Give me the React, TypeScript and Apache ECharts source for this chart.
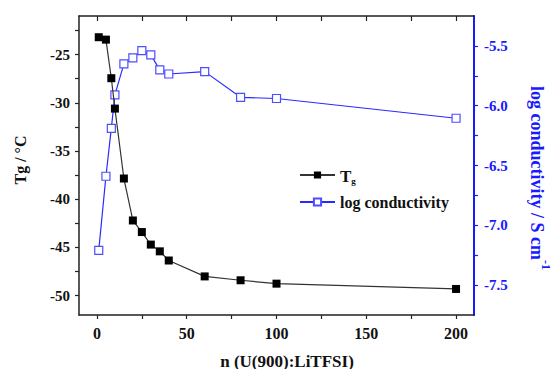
import React, { useEffect, useRef } from "react";
import * as echarts from "echarts";

const nValues = [1, 5, 8, 10, 15, 20, 25, 30, 35, 40, 60, 80, 100, 200];
const tgValues = [-23.2, -23.45, -27.45, -30.6, -37.85, -42.2, -43.4, -44.7, -45.4, -46.35, -48.0, -48.4, -48.75, -49.3];
const logCondValues = [-7.21, -6.59, -6.19, -5.91, -5.65, -5.6, -5.54, -5.575, -5.7, -5.735, -5.715, -5.93, -5.94, -6.105];

const xMajor = [0, 50, 100, 150, 200];
const xTicks = [0, 25, 50, 75, 100, 125, 150, 175, 200];
const leftMajor = [-50, -45, -40, -35, -30, -25];
const leftTicks = [-50, -47.5, -45, -42.5, -40, -37.5, -35, -32.5, -30, -27.5, -25, -22.5];
const rightMajor = [-7.5, -7.0, -6.5, -6.0, -5.5];
const rightTicks = [-7.5, -7.25, -7.0, -6.75, -6.5, -6.25, -6.0, -5.75, -5.5];

const FONT = "Liberation Serif";
const BLUE = "#1a1aff";

export default function App() {
  const ref = useRef<HTMLDivElement>(null);
  useEffect(() => {
    if (!ref.current) return;
    const chart = echarts.init(ref.current, null, { renderer: "svg" });
    const labelStyle = { fontFamily: FONT, fontWeight: "bold", fontSize: 15, color: "#111" };
    chart.setOption({
      animation: false,
      backgroundColor: "#fff",
      grid: { left: 79, right: 79, top: 16, bottom: 54 },
      legend: {
        left: 294,
        top: 160,
        orient: "vertical",
        itemWidth: 35,
        itemHeight: 9,
        itemGap: 9,
        textStyle: {
          fontFamily: FONT,
          fontWeight: "bold",
          fontSize: 16,
          color: "#111",
          rich: {
            t: { fontFamily: FONT, fontWeight: "bold", fontSize: 17, color: "#111", lineHeight: 20, verticalAlign: "bottom" },
            g: { fontFamily: FONT, fontWeight: "bold", fontSize: 9, color: "#111", lineHeight: 12, padding: [11, 0, 0, 0] },
          },
        },
        formatter: (name: string) => (name === "Tg" ? "{t|T}{g|g}" : name),
        data: ["Tg", "log conductivity"],
      },
      graphic: [
        {
          type: "text",
          x: 20,
          y: 160,
          rotation: Math.PI / 2,
          style: {
            text: "Tg / °C",
            fontFamily: FONT,
            fontWeight: "bold",
            fontSize: 16,
            fill: "#111",
            align: "center",
            verticalAlign: "middle",
          },
        },
        {
          type: "text",
          x: 540,
          y: 178,
          rotation: -Math.PI / 2,
          style: {
            text: "{a|log conductivity / S cm}{s|-1}",
            align: "center",
            verticalAlign: "middle",
            rich: {
              a: { fontFamily: FONT, fontWeight: "bold", fontSize: 18, fill: BLUE, lineHeight: 24, verticalAlign: "bottom" },
              s: { fontFamily: FONT, fontWeight: "bold", fontSize: 12, fill: BLUE, lineHeight: 24, verticalAlign: "top" },
            },
          },
        },
        {
          type: "text",
          x: 287,
          y: 361,
          style: {
            text: "n (U(900):LiTFSI)",
            fontFamily: FONT,
            fontWeight: "bold",
            fontSize: 17,
            fill: "#111",
            align: "center",
            verticalAlign: "middle",
          },
        },
      ],
      xAxis: [
        {
          type: "value",
          min: -10,
          max: 210,
          position: "bottom",
          axisLine: { show: true, onZero: false, lineStyle: { color: "#222", width: 1.5 } },
          axisTick: { show: true, inside: false, length: 4, interval: 0, customValues: xTicks, lineStyle: { color: "#222", width: 1.2 } },
          axisLabel: { ...labelStyle, fontSize: 16, margin: 10, customValues: xMajor },
          splitLine: { show: false },
        },
        {
          type: "value",
          min: -10,
          max: 210,
          position: "top",
          axisLine: { show: true, onZero: false, lineStyle: { color: "#222", width: 1.5 } },
          axisTick: { show: true, inside: true, length: 5, interval: 0, customValues: xTicks, lineStyle: { color: "#222", width: 1.2 } },
          axisLabel: { show: false },
          splitLine: { show: false },
        },
      ],
      yAxis: [
        {
          type: "value",
          min: -52,
          max: -21,
          position: "left",
          axisLine: { show: true, onZero: false, lineStyle: { color: "#222", width: 1.5 } },
          axisTick: { show: true, inside: false, length: 4, interval: 0, customValues: leftTicks, lineStyle: { color: "#222", width: 1.2 } },
          axisLabel: { ...labelStyle, margin: 9, customValues: leftMajor },
          splitLine: { show: false },
        },
        {
          type: "value",
          min: -7.75,
          max: -5.25,
          position: "right",
          axisLine: { show: true, onZero: false, lineStyle: { color: BLUE, width: 2 } },
          axisTick: { show: true, inside: false, length: 4, interval: 0, customValues: rightTicks, lineStyle: { color: BLUE, width: 1.2 } },
          axisLabel: {
            ...labelStyle,
            color: BLUE,
            margin: 10,
            customValues: rightMajor,
            formatter: (v: number) => v.toFixed(1),
          },
          splitLine: { show: false },
        },
      ],
      series: [
        {
          name: "Tg",
          type: "line",
          xAxisIndex: 0,
          yAxisIndex: 0,
          data: nValues.map((n, i) => [n, tgValues[i]]),
          symbol: "rect",
          symbolSize: 8,
          itemStyle: { color: "#000", borderColor: "#000", borderWidth: 0 },
          lineStyle: { color: "#333", width: 1.2 },
          z: 3,
        },
        {
          name: "log conductivity",
          type: "line",
          xAxisIndex: 0,
          yAxisIndex: 1,
          data: nValues.map((n, i) => [n, logCondValues[i]]),
          symbol: "rect",
          symbolSize: 8,
          showAllSymbol: true,
          itemStyle: { color: "#fff", borderColor: "#4d4dff", borderWidth: 1.2 },
          lineStyle: { color: "#2a2aff", width: 1.2 },
          z: 2,
        },
      ],
    });
    return () => chart.dispose();
  }, []);
  return <div ref={ref} style={{ position: "fixed", left: 0, top: 0, width: 553, height: 369 }} />;
}
